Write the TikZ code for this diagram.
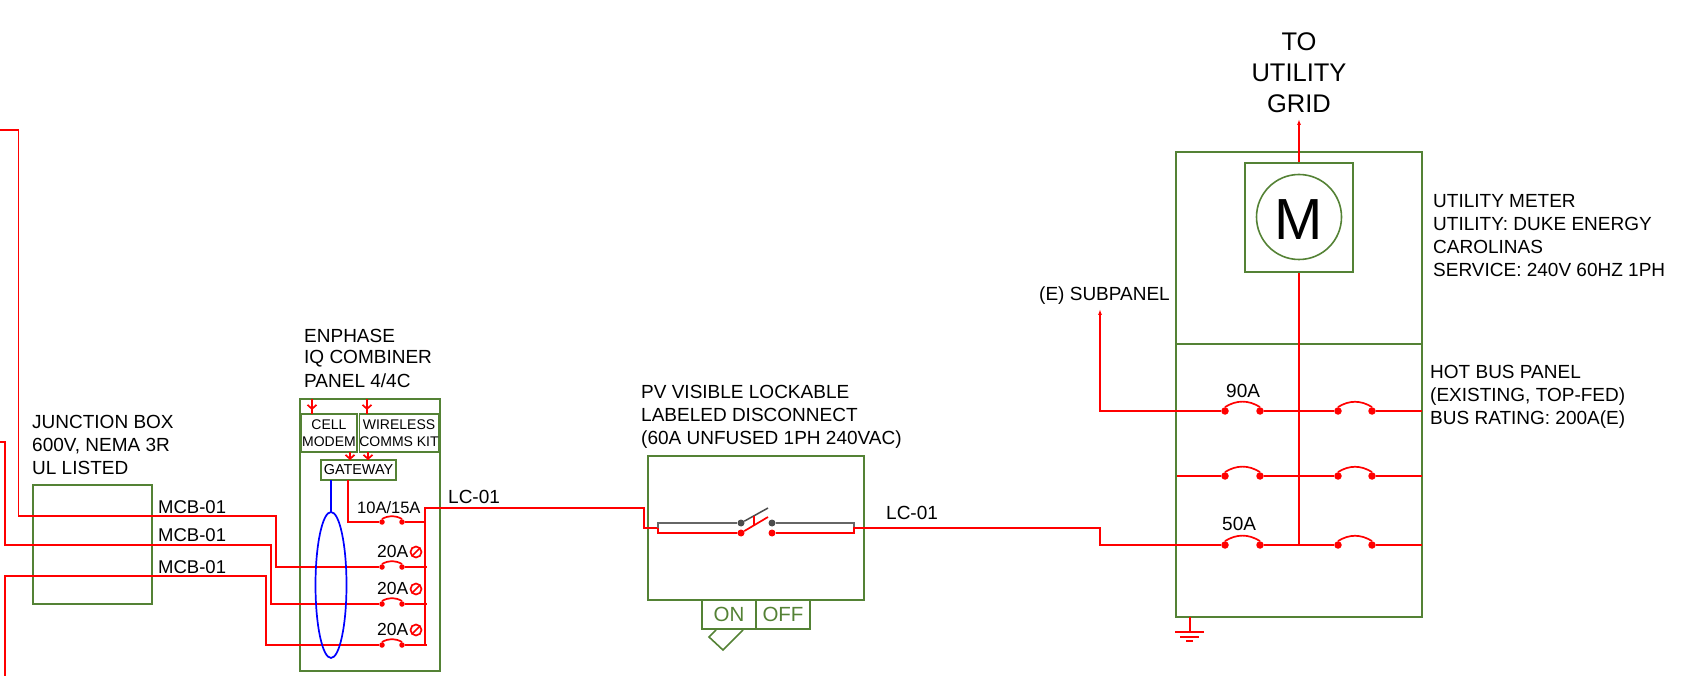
\documentclass[tikz,border=0pt]{standalone}
\usepackage{fontspec}
\setmainfont{Liberation Sans}
\usepackage{xcolor}
\definecolor{boxgreen}{HTML}{548235}
\usetikzlibrary{arrows.meta}
\tikzset{
    wire/.style={draw=red,line width=1.7pt},
    busbox/.style={draw=boxgreen,line width=1.6pt,inner sep=0pt},
    lbl/.style={anchor=north west,align=left,inner sep=0pt,font=\fontsize{19}{23}\selectfont},
    brkbig/.style={circle,fill=red,inner sep=0pt,minimum size=7.5pt},
    brksmall/.style={circle,fill=red,inner sep=0pt,minimum size=5.5pt},
    sig/.style={wire,-{Straight Barb[length=4pt,width=9pt]}},
    cntgray/.style={circle,fill=black!70,inner sep=0pt,minimum size=7pt},
    cntred/.style={circle,fill=red,inner sep=0pt,minimum size=7pt},
}
\begin{document}
\begin{tikzpicture}[x=1pt,y=-1pt]
    \useasboundingbox (0,0) rectangle (1698,676);
    % boxes
    \node[busbox,minimum width=119pt,minimum height=119pt] (jbox) at (92.5,544.5) {};
    \node[busbox,minimum width=140pt,minimum height=272pt] (combiner) at (370,535) {};
    \node[busbox,minimum width=56pt,minimum height=38pt,font=\fontsize{14}{17}\selectfont,align=center] (modem) at (329,433) {CELL\\MODEM};
    \node[busbox,minimum width=78pt,minimum height=38pt,font=\fontsize{14}{17}\selectfont,align=center] (comms) at (399,433) {WIRELESS\\COMMS KIT};
    \node[busbox,minimum width=75pt,minimum height=20pt,font=\fontsize{14.4}{17}\selectfont] (gateway) at (358.5,470) {GATEWAY};
    \node[busbox,minimum width=216pt,minimum height=144pt] (disc) at (756,528) {};
    \node[busbox,minimum width=54pt,minimum height=29pt,text=boxgreen,font=\fontsize{20.5}{24}\selectfont] (onbox) at (729,614.5) {ON};
    \node[busbox,minimum width=54pt,minimum height=29pt,text=boxgreen,font=\fontsize{20.5}{24}\selectfont] (offbox) at (783,614.5) {OFF};
    \node[busbox,minimum width=246pt,minimum height=465pt] (panel) at (1299,384.5) {};
    \node[busbox,minimum width=108pt,minimum height=109pt] (meterbox) at (1299,217.5) {};
    \node[busbox,circle,minimum size=85pt] (meter) at (1299,217) {};
    \node[font=\fontsize{58}{60}\selectfont,inner sep=0pt] (mlabel) at (1299,220) {M};
    \draw[busbox] (panel.west |- 0,344) -- (panel.east |- 0,344);
    \draw[draw=boxgreen,line width=1.6pt] (716,630) -- (709,637) -- (723,650) -- (743,630);

    % breakers
    \foreach \name/\xa/\xb/\yy in {ca/382/402/522,cb/382/402/567,cc/382/402/604,cd/382/402/645}{
        \node[brksmall] (\name l) at (\xa,\yy) {};
        \node[brksmall] (\name r) at (\xb,\yy) {};
        \draw[wire] (\name l.north) to[bend left=30] (\name r.north);
    }
    \foreach \name/\xa/\xb/\yy in {pa/1225/1260/411,pb/1338/1372/411,pc/1225/1260/476,pd/1338/1372/476,pe/1225/1260/545,pf/1338/1372/545}{
        \node[brkbig] (\name l) at (\xa,\yy) {};
        \node[brkbig] (\name r) at (\xb,\yy) {};
        \draw[wire] (\name l.north) to[bend left=32] (\name r.north);
    }

    % wires from the left
    \draw[wire] (0,130) -- (18.5,130) -- (18.5,516) -- (276,516) -- (276,567) -- (cbl);
    \draw[wire] (0,442) -- (5,442) -- (5,545) -- (271,545) -- (271,604) -- (ccl);
    \draw[wire] (5,676) -- (5,576) -- (266,576) -- (266,645) -- (cdl);
    \draw[wire] (cbr) -- (427,567);
    \draw[wire] (ccr) -- (427,604);
    \draw[wire] (cdr) -- (427,645);
    \draw[wire] (car) -- (425,522);
    \draw[wire] (348,480) -- (348,522) -- (cal);
    \coordinate (bustop) at (425,508);
    \coordinate (busend) at (425,645);
    \draw[wire] (busend) -- (bustop) -- (644,508) -- (644,528) -- (658,528);

    % comms
    \foreach \xx/\ya/\yb/\yc in {312/399/410/414,367/399/410/414,350/452/460/460,368/452/460/460}{
        \draw[wire] (\xx,\ya) -- (\xx,\yc);
        \draw[sig] (\xx,\ya) -- (\xx,\yb);
    }
    \draw[blue,line width=1.7pt] (331,480) -- (331,512);
    \draw[blue,line width=1.7pt] (331,585) ellipse (15.5 and 73);
    \foreach \yy in {552,589,630}{
        \draw[red,line width=1.7pt] (416,\yy) circle (5.5);
        \draw[red,line width=1.7pt] (412.2,\yy+3.8) -- (419.8,\yy-3.8);
    }

    % disconnect
    \node[cntgray] (gl) at (741,523) {};
    \node[cntgray] (gr) at (772,523) {};
    \node[cntred] (rl) at (741,533) {};
    \node[cntred] (rr) at (772,533) {};
    \draw[black!60,line width=1.5pt] (658,528) -- (658,523) -- (gl);
    \draw[black!70,line width=1.5pt] (gl) -- (768,508);
    \draw[black!60,line width=1.5pt] (gr) -- (854,523) -- (854,528);
    \draw[wire] (658,528) -- (658,533) -- (rl) -- (768,517);
    \draw[wire] (754,516) -- (754,525);
    \draw[wire] (rr) -- (854,533) -- (854,528) -- (1100,528) -- (1100,545) -- (pel);

    % panel
    \draw[wire,-{Latex[length=6pt,width=4pt]}] (meterbox.north) -- (1299,119);
    \draw[wire] (meterbox.south) -- (1299,545);
    \draw[wire,-{Latex[length=6pt,width=4pt]}] (pal) -- (1100,411) -- (1100,309);
    \draw[wire] (par) -- (pbl);
    \draw[wire] (pbr) -- (1422,411);
    \draw[wire] (1177,476) -- (pcl);
    \draw[wire] (pcr) -- (pdl);
    \draw[wire] (pdr) -- (1422,476);
    \draw[wire] (per) -- (pfl);
    \draw[wire] (pfr) -- (1422,545);
    \draw[wire] (1190,617) -- (1190,632);
    \draw[wire] (1175,632) -- (1204,632);
    \draw[wire] (1180,637) -- (1199,637);
    \draw[wire] (1186,641) -- (1193,641);

    % labels
    \node[lbl] (jlabel) at (32,415.5) {JUNCTION BOX\\600V, NEMA 3R\\UL LISTED};
    \node[lbl,font=\fontsize{18.5}{23}\selectfont] (mcba) at (158,500) {MCB-01};
    \node[lbl,font=\fontsize{18.5}{23}\selectfont] (mcbb) at (158,528) {MCB-01};
    \node[lbl,font=\fontsize{18.5}{23}\selectfont] (mcbc) at (158,560) {MCB-01};
    \node[lbl] (enlabel) at (304,329) {ENPHASE\\[-2pt]IQ COMBINER\\[1pt]PANEL 4/4C};
    \node[lbl,font=\fontsize{16.5}{20}\selectfont] (cba) at (357,501) {10A/15A};
    \node[lbl,font=\fontsize{17.5}{20}\selectfont] (cbb) at (377,545) {20A};
    \node[lbl,font=\fontsize{17.5}{20}\selectfont] (cbc) at (377,582) {20A};
    \node[lbl,font=\fontsize{17.5}{20}\selectfont] (cbd) at (377,623) {20A};
    \node[lbl] (lca) at (448,490) {LC-01};
    \node[lbl] (lcb) at (886,506) {LC-01};
    \node[lbl] (pvlabel) at (641,385) {PV VISIBLE LOCKABLE\\LABELED DISCONNECT\\(60A UNFUSED 1PH 240VAC)};
    \node[lbl] (p90) at (1226,384) {90A};
    \node[lbl] (p50) at (1222,517) {50A};
    \node[lbl,anchor=north east] (sublabel) at (1170,287) {(E) SUBPANEL};
    \node[lbl] (hotlabel) at (1430,365) {HOT BUS PANEL\\(EXISTING, TOP-FED)\\BUS RATING: 200A(E)};
    \node[lbl] (metlabel) at (1433,194) {UTILITY METER\\UTILITY: DUKE ENERGY\\CAROLINAS\\SERVICE: 240V 60HZ 1PH};
    \node[lbl,anchor=north,align=center,font=\fontsize{25.5}{31}\selectfont] (gridlabel) at (1299,32.5) {TO\\UTILITY\\GRID};
\end{tikzpicture}
\end{document}
